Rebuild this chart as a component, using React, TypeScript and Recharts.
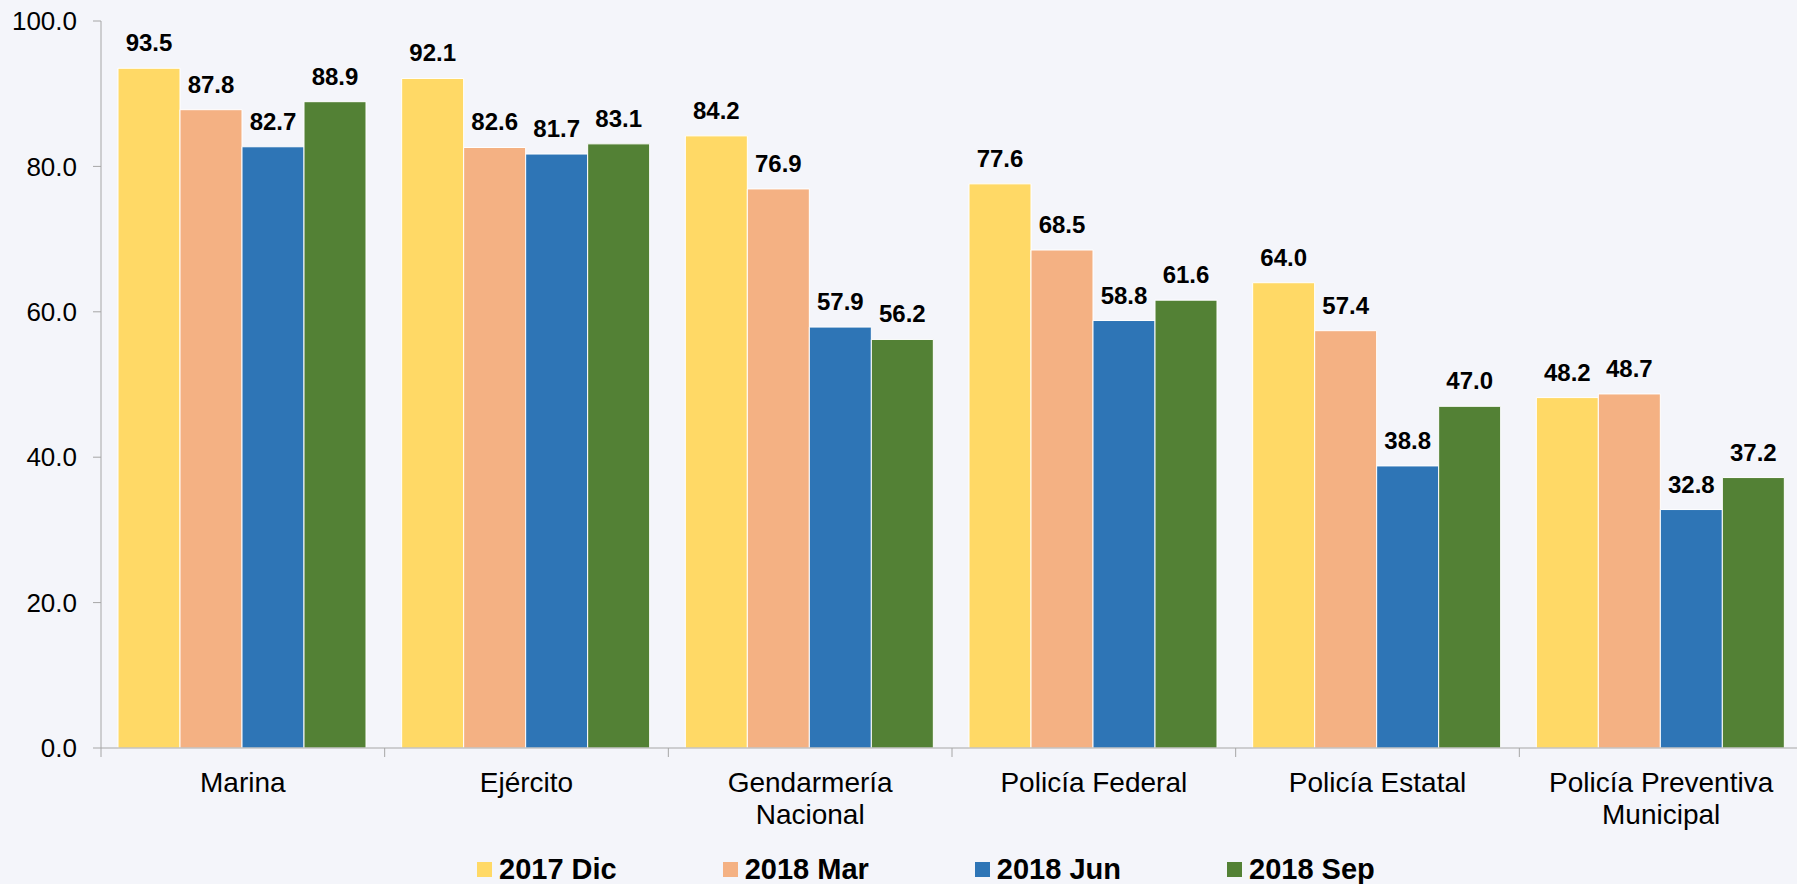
import React from 'react';
import { BarChart, Bar, XAxis, YAxis, LabelList, Legend } from 'recharts';

const categories = ['Marina', 'Ejército', 'Gendarmería Nacional', 'Policía Federal', 'Policía Estatal', 'Policía Preventiva Municipal'];
const categoryLines = [['Marina'], ['Ejército'], ['Gendarmería', 'Nacional'], ['Policía Federal'], ['Policía Estatal'], ['Policía Preventiva', 'Municipal']];
const seriesNames = ['2017 Dic', '2018 Mar', '2018 Jun', '2018 Sep'];
const dic2017 = [93.5, 92.1, 84.2, 77.6, 64.0, 48.2];
const mar2018 = [87.8, 82.6, 76.9, 68.5, 57.4, 48.7];
const jun2018 = [82.7, 81.7, 57.9, 58.8, 38.8, 32.8];
const sep2018 = [88.9, 83.1, 56.2, 61.6, 47.0, 37.2];
const yTicks = [0, 20, 40, 60, 80, 100];

const seriesValues = [dic2017, mar2018, jun2018, sep2018];
const colors = ['#FFD966', '#F4B183', '#2E75B6', '#538135'];

const data = categories.map((c, i) => {
  const row: any = { name: c };
  seriesNames.forEach((s, j) => { row[s] = seriesValues[j][i]; });
  return row;
});

const FONT = '"Liberation Sans", Arial, sans-serif';
const CHART_W = 1803;
const CHART_H = 884;
const Y_W = 101;
const CAT_W = (CHART_W - Y_W) / categories.length;
const AXIS_COLOR = '#A6A6A6';

const XTick = (props: any) => {
  const { x, y, payload } = props;
  const idx = categories.indexOf(payload.value);
  const lines = idx >= 0 ? categoryLines[idx] : [payload.value];
  return (
    <g>
      <line x1={x - CAT_W / 2} x2={x - CAT_W / 2} y1={y} y2={y + 9} stroke={AXIS_COLOR} strokeWidth={1} />
      <text x={x} y={y + 44} textAnchor="middle" fontSize={28} fill="#000" fontFamily={FONT}>
        {lines.map((l: string, i: number) => (
          <tspan key={i} x={x} dy={i === 0 ? 0 : 31.5}>{l}</tspan>
        ))}
      </text>
    </g>
  );
};

const renderLegend = (props: any) => {
  const payload = [...(props.payload || [])].sort(
    (a: any, b: any) => seriesNames.indexOf(a.value) - seriesNames.indexOf(b.value)
  );
  return (
    <div style={{ display: 'flex', fontFamily: FONT, whiteSpace: 'nowrap', height: 28 }}>
      {payload.map((p: any, i: number) => (
        <div key={i} style={{ display: 'flex', alignItems: 'center', marginRight: 106, height: 28 }}>
          <span style={{ display: 'inline-block', width: 15, height: 15, background: p.color, marginRight: 7 }} />
          <span style={{ fontSize: 29, fontWeight: 'bold', color: '#000', lineHeight: '28px' }}>{p.value}</span>
        </div>
      ))}
    </div>
  );
};

export default function App() {
  return (
    <div style={{ position: 'fixed', left: 0, top: 0, width: 1797, height: 884, overflow: 'hidden', background: '#F4F5FA' }}>
      <BarChart
        width={CHART_W}
        height={CHART_H}
        data={data}
        margin={{ top: 21, right: 0, bottom: 0, left: 0 }}
        barCategoryGap={17}
        barGap={0}
        style={{ fontFamily: FONT }}
      >
        <YAxis
          width={Y_W}
          domain={[0, 100]}
          ticks={yTicks}
          tickFormatter={(v: number) => v.toFixed(1)}
          axisLine={{ stroke: AXIS_COLOR }}
          tickLine={{ stroke: AXIS_COLOR }}
          tickSize={8}
          tickMargin={16}
          tick={{ fontSize: 26, fill: '#000', fontFamily: FONT }}
        />
        <XAxis
          dataKey="name"
          height={136}
          axisLine={{ stroke: AXIS_COLOR }}
          tickLine={false}
          tickSize={0}
          tickMargin={0}
          interval={0}
          tick={<XTick />}
        />
        <Legend
          layout="horizontal"
          verticalAlign="middle"
          align="center"
          content={renderLegend}
          wrapperStyle={{ position: 'absolute', left: 477, top: 855, width: 1200, height: 28 }}
        />
        {seriesNames.map((s, j) => (
          <Bar key={s} dataKey={s} fill={colors[j]} stroke="#FFFFFF" strokeWidth={1} isAnimationActive={false}>
            <LabelList
              dataKey={s}
              position="top"
              offset={17}
              formatter={(v: any) => Number(v).toFixed(1)}
              style={{ fontSize: 24, fontWeight: 'bold', fill: '#000', fontFamily: FONT }}
            />
          </Bar>
        ))}
      </BarChart>
    </div>
  );
}
